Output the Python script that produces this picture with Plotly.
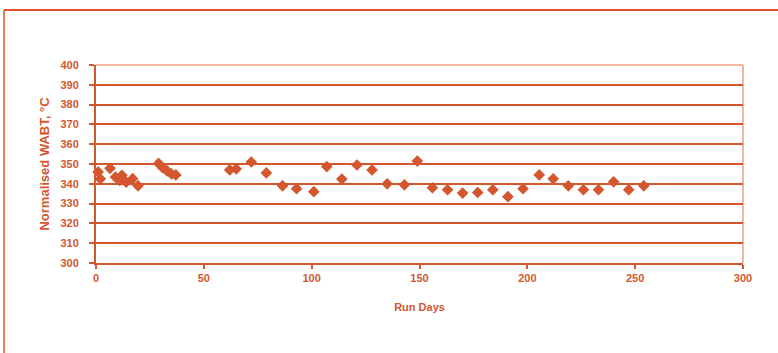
import plotly.graph_objects as go

run_days = [1, 2, 6.5, 9, 11, 12, 14, 17, 19.5,
            29, 31, 33, 35, 37,
            62, 65, 72, 79, 86.5, 93, 101, 107, 114, 121, 128, 135, 143,
            149, 156, 163, 170, 177, 184, 191, 198, 205.5, 212, 219, 226,
            233, 240, 247, 254]
wabt = [346, 342.5, 347.8, 343.4, 341.7, 344.3, 340.8, 342.6, 339,
        350.3, 348, 346.5, 345, 344.5,
        347, 347.5, 351, 345.5, 339, 337.5, 336, 348.7, 342.4, 349.5, 347, 340, 339.5,
        351.5, 338, 337, 335.3, 335.6, 337, 333.5, 337.5, 344.5, 342.5, 339, 337,
        337, 341, 337, 339]

x_ticks = [0, 50, 100, 150, 200, 250, 300]
y_ticks = [300, 310, 320, 330, 340, 350, 360, 370, 380, 390, 400]

C = "#D4562E"
LIGHT = "#F2B79E"
FONT = "Liberation Sans"

fig = go.Figure()
fig.add_trace(go.Scatter(
    x=run_days, y=wabt, mode="markers",
    marker=dict(symbol="diamond", size=9, color=C, line=dict(width=0)),
    showlegend=False, cliponaxis=False, hoverinfo="skip",
))

W, H = 778, 353
L, R, T, B = 96, 35, 65, 90
pw, ph = W - L - R, H - T - B

def px_to_paper_x(px):
    return (px - L) / pw

def px_to_paper_y(py):
    return 1 - (py - T) / ph

fig.update_layout(
    width=W, height=H,
    margin=dict(l=L, r=R, t=T, b=B),
    paper_bgcolor="white", plot_bgcolor="white",
    font=dict(family=FONT, color=C, size=11),
    xaxis=dict(
        range=[0, 300], tickvals=x_ticks, showgrid=False, zeroline=False,
        showline=True, linecolor=C, linewidth=2, mirror=False,
        ticks="outside", ticklen=4, tickwidth=1.5, tickcolor=C,
        tickfont=dict(family=FONT, size=11, color=C, weight="bold"),
        title=dict(text="<b>Run Days</b>", font=dict(family=FONT, size=11, color=C), standoff=20),
    ),
    yaxis=dict(
        range=[300, 400], tickvals=y_ticks, showgrid=True, gridcolor=C, gridwidth=1.8,
        zeroline=False, showline=True, linecolor=C, linewidth=2,
        ticks="outside", ticklen=5, tickwidth=1.5, tickcolor=C,
        ticklabelstandoff=8,
        tickfont=dict(family=FONT, size=11, color=C, weight="bold"),
        title=dict(text="<b>Normalised WABT, °C</b>", font=dict(family=FONT, size=13, color=C), standoff=8),
    ),
    shapes=[
        dict(type="line", xref="paper", yref="paper", x0=0, x1=1, y0=1, y1=1,
             line=dict(color=LIGHT, width=2), layer="below"),
        dict(type="line", xref="paper", yref="paper", x0=1, x1=1, y0=0, y1=1,
             line=dict(color=LIGHT, width=2), layer="below"),
        dict(type="line", xref="paper", yref="paper",
             x0=px_to_paper_x(4), x1=px_to_paper_x(W + 5),
             y0=px_to_paper_y(10), y1=px_to_paper_y(10),
             line=dict(color="#E2502A", width=2)),
        dict(type="line", xref="paper", yref="paper",
             x0=px_to_paper_x(4), x1=px_to_paper_x(4),
             y0=px_to_paper_y(10), y1=px_to_paper_y(H + 5),
             line=dict(color="#E2502A", width=1.5)),
    ],
)

fig.write_html("out.html", config={"displayModeBar": False},
               post_script="document.body.style.margin='0px';")
